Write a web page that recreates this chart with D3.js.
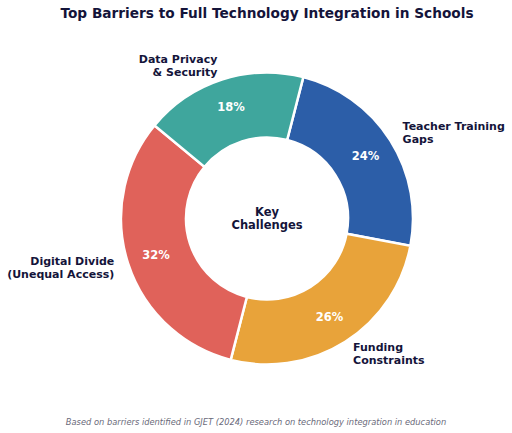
<!DOCTYPE html>
<html>
<head>
<meta charset="utf-8">
<script src="https://cdn.jsdelivr.net/npm/d3@7"></script>
<style>
  body { margin: 0; background: #fff; }
  text { font-family: "DejaVu Sans", sans-serif; }
</style>
</head>
<body>
<div id="chart"></div>
<script>
var categories = ["Teacher Training\nGaps", "Funding\nConstraints", "Digital Divide\n(Unequal Access)", "Data Privacy\n& Security"];
var shares = [24, 26, 32, 18];
var colors = ["#2c5ea8", "#e8a33a", "#e0625a", "#3fa69d"];

plot_donut(shares, "#chart");

function plot_donut (dataArray, htmlObjectId) {
    var width = 512;
    var height = 433;
    var cx = 267, cy = 218.5;
    var outer = 146, inner = 81;
    var start = 0.04 * 2 * Math.PI;

    var canvas = d3.select(htmlObjectId)
                    .append("svg")
                    .attr("width", width)
                    .attr("height", height);

    canvas.append("text")
        .attr("x", 267).attr("y", 18)
        .attr("text-anchor", "middle")
        .attr("font-size", 13.7).attr("font-weight", "bold")
        .attr("fill", "#14143a")
        .text("Top Barriers to Full Technology Integration in Schools");

    var pie = d3.pie().sort(null)
                .startAngle(start).endAngle(start + 2 * Math.PI);
    var arcs = pie(dataArray);

    var arc = d3.arc().innerRadius(inner).outerRadius(outer);
    var g = canvas.append("g").attr("transform", "translate(" + cx + "," + cy + ")");

    g.selectAll("path")
        .data(arcs)
        .enter()
            .append("path")
            .attr("d", arc)
            .attr("fill", function(d, i) { return colors[i]; })
            .attr("stroke", "#fff")
            .attr("stroke-width", 2.5);

    function pos(d, r) {
        var a = (d.startAngle + d.endAngle) / 2;
        return [r * Math.sin(a), -r * Math.cos(a)];
    }

    g.selectAll("text.pct")
        .data(arcs)
        .enter()
            .append("text")
            .attr("class", "pct")
            .attr("x", function(d) { return pos(d, outer * 0.8)[0]; })
            .attr("y", function(d) { return pos(d, outer * 0.8)[1]; })
            .attr("dy", "0.35em")
            .attr("text-anchor", "middle")
            .attr("font-size", 11.5).attr("font-weight", "bold")
            .attr("fill", "#fff")
            .text(function(d) { return d.data + "%"; });

    var labels = g.selectAll("text.lab")
        .data(arcs)
        .enter()
            .append("text")
            .attr("class", "lab")
            .attr("font-size", 11).attr("font-weight", "bold")
            .attr("fill", "#14143a")
            .attr("text-anchor", function(d) { return pos(d, 1)[0] < 0 ? "end" : "start"; })
            .attr("transform", function(d) {
                var p = pos(d, outer * 1.1);
                return "translate(" + p[0] + "," + p[1] + ")";
            });

    labels.each(function(d, i) {
        var lines = categories[i].split("\n");
        var t = d3.select(this);
        lines.forEach(function(l, j) {
            t.append("tspan")
                .attr("x", 0)
                .attr("y", (j - (lines.length - 1) / 2) * 13)
                .attr("dy", "0.35em")
                .text(l);
        });
    });

    var center = ["Key", "Challenges"];
    g.selectAll("text.ctr")
        .data(center)
        .enter()
            .append("text")
            .attr("class", "ctr")
            .attr("x", 0)
            .attr("y", function(d, i) { return (i - 0.5) * 13.5; })
            .attr("dy", "0.35em")
            .attr("text-anchor", "middle")
            .attr("font-size", 11.5).attr("font-weight", "bold")
            .attr("fill", "#14143a")
            .text(function(d) { return d; });

    canvas.append("text")
        .attr("x", 256).attr("y", 425)
        .attr("text-anchor", "middle")
        .attr("font-size", 8.3).attr("font-style", "italic")
        .attr("fill", "#6a6a7a")
        .text("Based on barriers identified in GJET (2024) research on technology integration in education");
}
</script>
</body>
</html>
